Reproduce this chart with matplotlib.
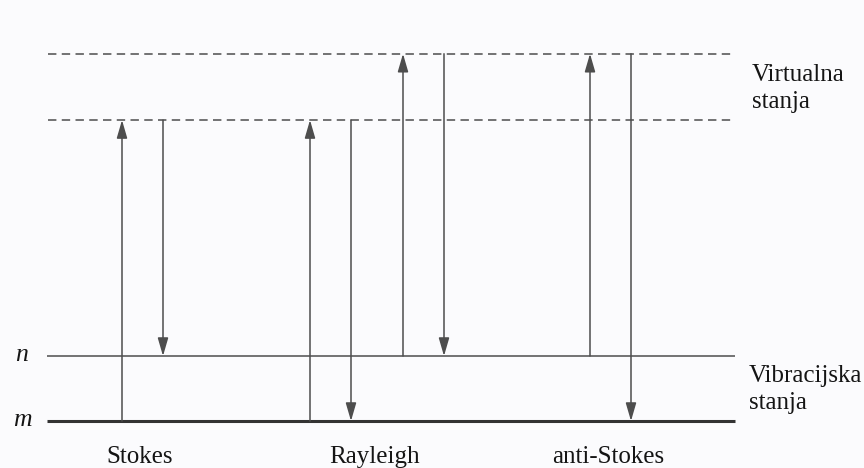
import matplotlib
matplotlib.use("Agg")
import matplotlib.pyplot as plt

# ---- data ----
level_names = ["m", "n", "v1", "v2"]
level_energy = [0.0, 1.0, 4.63, 5.65]
level_style = ["solid_thick", "solid", "dashed", "dashed"]

transition_x = [122, 163, 310, 351, 403, 444, 590, 631]
transition_from = ["m", "v1", "m", "v1", "n", "v2", "n", "v2"]
transition_to = ["v1", "n", "v1", "m", "v2", "n", "v2", "m"]

process_labels = ["Stokes", "Rayleigh", "anti-Stokes"]
process_label_x = [140, 375, 608]

level_labels = ["m", "n"]
group_labels = ["Virtualna\nstanja", "Vibracijska\nstanja"]

E = dict(zip(level_names, level_energy))

fig = plt.figure(figsize=(8.64, 4.68), dpi=100)
fig.patch.set_facecolor("#fbfbfd")
ax = fig.add_axes([0, 0, 1, 1])
ax.set_facecolor("#fbfbfd")
ax.set_xlim(0, 864)
ax.set_ylim(-0.723, 6.477)
ax.axis("off")

line_col = "#4d4d4d"
txt_col = "#151515"
x0, x1 = 47, 735

for name, st in zip(level_names, level_style):
    y = E[name]
    if st == "solid_thick":
        ax.plot([x0, x1], [y, y], color="#333333", lw=2.2, solid_capstyle="butt")
    elif st == "solid":
        ax.plot([x0, x1], [y, y], color=line_col, lw=1.1, solid_capstyle="butt")
    else:
        ax.plot([x0 + 1, x1], [y, y], color=line_col, lw=1.1,
                linestyle=(0, (5.5, 3.5)))

for x, a, b in zip(transition_x, transition_from, transition_to):
    ax.annotate("", xy=(x, E[b]), xytext=(x, E[a]),
                arrowprops=dict(arrowstyle="-|>,head_length=1.1,head_width=0.32",
                                color=line_col, lw=1.1, shrinkA=0, shrinkB=0,
                                mutation_scale=10))

serif = ["Liberation Serif", "DejaVu Serif"]
for lab, x in zip(process_labels, process_label_x):
    ax.text(x, -0.55, lab, ha="center", va="center", fontsize=18,
            family=serif, color=txt_col)

for lab in level_labels:
    ax.text(22, E[lab] + 0.02, lab, ha="center", va="center", fontsize=18.5,
            family=serif, style="italic", color=txt_col)

ax.text(752, 5.11, group_labels[0], ha="left",
        va="center", fontsize=18, family=serif, color=txt_col, linespacing=1.3)
ax.text(749, 0.48, group_labels[1], ha="left",
        va="center", fontsize=18, family=serif, color=txt_col, linespacing=1.3)

fig.savefig("out.png", dpi=100, facecolor=fig.get_facecolor())
